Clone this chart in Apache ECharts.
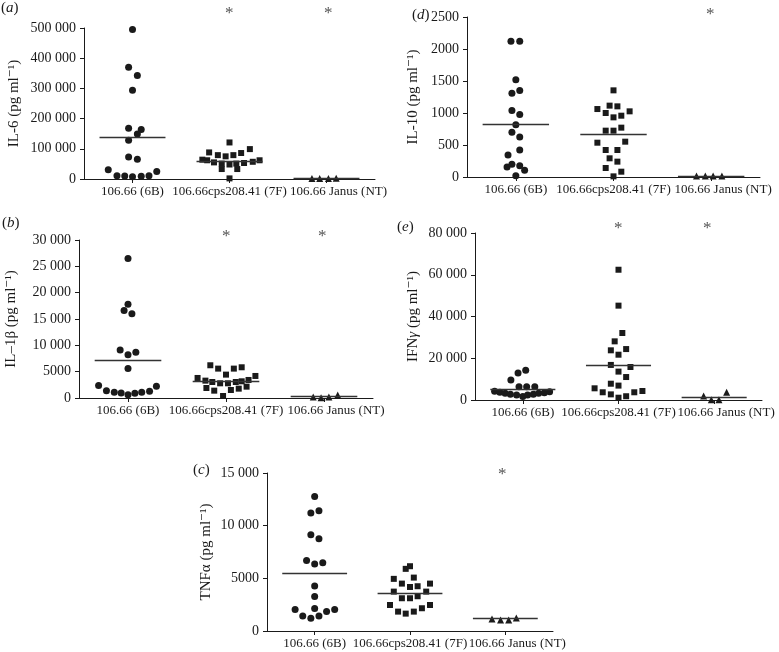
<!DOCTYPE html>
<html>
<head>
<meta charset="utf-8">
<script src="https://cdn.jsdelivr.net/npm/echarts@6/dist/echarts.min.js"></script>
<style>
html, body { margin: 0; padding: 0; background: #fff; }
#main { width: 779px; height: 652px; }
</style>
</head>
<body>
<div id="main"></div>
<script>
// groups on the x axis
var categories = ['106.66 (6B)', '106.66cps208.41 (7F)', '106.66 Janus (NT)'];

// (a) IL-6
var il6Ticks = [0, 100000, 200000, 300000, 400000, 500000];
var il6 = [
    [495000, 370000, 343000, 294000, 168000, 164000, 149000, 128000, 73000, 65000, 31000, 11000, 10000, 7700, 9000, 11000, 25000],
    [121000, 88000, 79000, 75000, 79000, 86000, 99000, 64000, 62000, 55000, 51000, 48000, 51000, 53000, 57000, 62000, 33000, 33000, 2000],
    [1800, 1500, 2000, 2500]
];
var il6Jitter = [
    [0, -0.04, 0.05, 0, -0.04, 0.09, 0.05, -0.04, -0.04, 0.05, -0.25, -0.16, -0.08, 0, 0.09, 0.17, 0.25],
    [0, -0.21, -0.12, -0.04, 0.04, 0.12, 0.21, -0.28, -0.23, -0.16, -0.08, 0, 0.07, 0.15, 0.24, 0.31, -0.08, 0.08, 0],
    [-0.15, -0.07, 0.02, 0.1]
];
var il6Means = [139000, 58000, 3500];

// (d) IL-10
var il10Ticks = [0, 500, 1000, 1500, 2000, 2500];
var il10 = [
    [2120, 2120, 1520, 1310, 1350, 1040, 975, 815, 700, 625, 420, 345, 155, 200, 175, 105, 20],
    [1354, 1062, 1115, 1104, 1026, 1000, 932, 958, 724, 724, 771, 536, 552, 422, 422, 292, 240, 141, 83, 10],
    [15, 15, 15, 15]
];
var il10Jitter = [
    [-0.05, 0.04, 0, -0.04, 0.04, -0.04, 0.04, 0, -0.04, 0.04, 0.04, -0.08, -0.09, -0.04, 0.04, 0.09, 0],
    [0, -0.165, -0.04, 0.04, 0.165, -0.08, 0, 0.08, -0.08, 0, 0.08, -0.165, 0.12, -0.08, 0.04, -0.04, 0.04, -0.08, 0.08, 0],
    [-0.15, -0.06, 0.02, 0.11]
];
var il10Means = [820, 675, 15];

// (b) IL-1beta
var il1bTicks = [0, 5000, 10000, 15000, 20000, 25000, 30000];
var il1b = [
    [26500, 17800, 16600, 16000, 9100, 8200, 8700, 5600, 2350, 1400, 1080, 950, 630, 890, 1080, 1270, 2220],
    [6215, 5580, 4438, 5580, 5833, 3804, 4184, 3297, 3043, 2790, 2790, 3043, 3170, 3424, 1902, 1395, 1522, 1775, 2156, 380],
    [200, 60, 200, 570]
];
var il1bJitter = [
    [0, 0, -0.04, 0.04, -0.08, 0, 0.08, 0, -0.3, -0.22, -0.14, -0.07, 0, 0.07, 0.14, 0.22, 0.29],
    [-0.16, -0.08, 0, 0.08, 0.16, -0.29, 0.3, -0.21, -0.14, -0.06, 0.02, 0.1, 0.16, 0.23, -0.2, -0.12, 0.05, 0.13, 0.21, -0.03],
    [-0.11, -0.03, 0.05, 0.14]
];
var il1bMeans = [7100, 3230, 320];

// (e) IFN-gamma
var ifngTicks = [0, 20000, 40000, 60000, 80000];
var ifng = [
    [14200, 12900, 9600, 6300, 6300, 6300, 4200, 3700, 3200, 2700, 2400, 1700, 2400, 2700, 3200, 3500, 4000],
    [62400, 45200, 32100, 28100, 23800, 24400, 21700, 16800, 15800, 13600, 11000, 7800, 6900, 5600, 3700, 2700, 1100, 1800, 3700, 4300],
    [1900, 100, 100, 3700]
];
var ifngJitter = [
    [0.03, -0.05, -0.125, -0.04, 0.04, 0.125, -0.295, -0.24, -0.185, -0.13, -0.065, 0, 0.05, 0.11, 0.165, 0.225, 0.28],
    [0, 0, 0.04, -0.04, -0.08, 0.08, 0, -0.08, 0.125, 0, 0.08, -0.08, 0, -0.25, -0.165, -0.08, 0, 0.08, 0.165, 0.25],
    [-0.11, -0.03, 0.05, 0.13]
];
var ifngMeans = [4950, 16600, 1300];

// (c) TNF-alpha
var tnfTicks = [0, 5000, 10000, 15000];
var tnf = [
    [12780, 11200, 11420, 9130, 8750, 6690, 6370, 6470, 4280, 3270, 2130, 2030, 1430, 1200, 1430, 1840, 2030],
    [5900, 6150, 4950, 5070, 4500, 4180, 4250, 4500, 3740, 3740, 3110, 3110, 3300, 2470, 2470, 1840, 1650, 1840, 2160],
    [1140, 1050, 1050, 1240]
];
var tnfJitter = [
    [0, -0.04, 0.045, -0.04, 0.045, -0.085, 0, 0.085, 0, 0, 0, -0.205, -0.125, -0.04, 0.045, 0.125, 0.21],
    [-0.045, 0, -0.17, 0.04, -0.085, 0, 0.08, 0.21, -0.17, 0.17, -0.085, 0, 0.08, -0.21, 0.21, -0.125, -0.045, 0.04, 0.125],
    [-0.14, -0.05, 0.035, 0.115]
];
var tnfMeans = [5450, 3590, 1200];

(function () {
    var chart = echarts.init(document.getElementById('main'));
    var font = '"Liberation Serif", "DejaVu Serif", serif';
    var ink = '#1a1a1a';
    var symbols = ['circle', 'rect', 'triangle'];
    var symbolSizes = [7, 6, 7];
    var centers = [0.5, 1.5, 2.5];

    function yFmt(v) {
        return v >= 10000 ? String(v).replace(/\B(?=(\d{3})+(?!\d))/g, ' ') : String(v);
    }

    // last group label sits a little right of its tick, as in the figure
    function xFmt(v) {
        var i = Math.floor(v);
        return i === 2 ? '{r|' + categories[i] + '}' : categories[i];
    }

    var panels = [
        {letter: 'a', values: il6, jitter: il6Jitter, means: il6Means, ticks: il6Ticks,
         name: 'IL-6 (pg ml⁻¹)', gap: 62,
         grid: {left: 84, top: 28, width: 291, height: 151}},
        {letter: 'd', values: il10, jitter: il10Jitter, means: il10Means, ticks: il10Ticks,
         name: 'IL-10 (pg ml⁻¹)', gap: 46,
         grid: {left: 467, top: 17, width: 293, height: 160}},
        {letter: 'b', values: il1b, jitter: il1bJitter, means: il1bMeans, ticks: il1bTicks,
         name: 'IL–1β (pg ml⁻¹)', gap: 60,
         grid: {left: 79, top: 240, width: 294, height: 158}},
        {letter: 'e', values: ifng, jitter: ifngJitter, means: ifngMeans, ticks: ifngTicks,
         name: '{n|IFN}{i|γ}{n| (pg ml⁻¹)}', gap: 54,
         grid: {left: 475, top: 233, width: 287, height: 167}},
        {letter: 'c', values: tnf, jitter: tnfJitter, means: tnfMeans, ticks: tnfTicks,
         name: 'TNFα (pg ml⁻¹)', gap: 53,
         grid: {left: 267, top: 473, width: 286, height: 158}}
    ];

    var option = {
        animation: false,
        backgroundColor: '#fff',
        grid: [], xAxis: [], yAxis: [], series: [], graphic: []
    };

    panels.forEach(function (p, k) {
        option.grid.push(p.grid);
        option.xAxis.push({
            type: 'value', gridIndex: k, min: 0, max: 3,
            axisLine: {show: true, onZero: false, lineStyle: {color: ink, width: 1}},
            axisTick: {show: true, length: 4, customValues: centers, lineStyle: {color: ink}},
            axisLabel: {
                customValues: centers, margin: 6,
                showMinLabel: true, showMaxLabel: true, hideOverlap: false,
                fontFamily: font, fontSize: 13, color: ink,
                formatter: xFmt,
                rich: {r: {fontFamily: font, fontSize: 13, color: ink, padding: [0, 0, 0, 24]}}
            },
            splitLine: {show: false}
        });
        option.yAxis.push({
            type: 'value', gridIndex: k,
            min: 0, max: p.ticks[p.ticks.length - 1], interval: p.ticks[1],
            name: p.name, nameLocation: 'middle', nameGap: p.gap,
            nameTextStyle: {
                fontFamily: font, fontSize: 15, color: ink,
                rich: {
                    n: {fontFamily: font, fontSize: 15, color: ink},
                    i: {fontFamily: font, fontSize: 15, color: ink, fontStyle: 'italic'}
                }
            },
            axisLine: {show: true, onZero: false, lineStyle: {color: ink, width: 1}},
            axisTick: {show: true, length: 4, lineStyle: {color: ink}},
            axisLabel: {fontFamily: font, fontSize: 14, color: ink, margin: 8, formatter: yFmt},
            splitLine: {show: false}
        });

        p.values.forEach(function (vals, g) {
            option.series.push({
                type: 'scatter', xAxisIndex: k, yAxisIndex: k,
                symbol: symbols[g], symbolSize: symbolSizes[g],
                itemStyle: {color: ink, opacity: 1},
                data: vals.map(function (v, i) { return [centers[g] + p.jitter[g][i], v]; }),
                markLine: {
                    silent: true, symbol: ['none', 'none'],
                    label: {show: false},
                    lineStyle: {color: '#333', width: 1.3, type: 'solid', opacity: 1},
                    data: [[{coord: [centers[g] - 0.34, p.means[g]]}, {coord: [centers[g] + 0.34, p.means[g]]}]]
                }
            });
        });
    });

    // panel letters
    var letters = [['a', 1, 1], ['d', 412, 8], ['b', 2, 216], ['e', 397, 220], ['c', 193, 463]];
    letters.forEach(function (l) {
        option.graphic.push({
            type: 'text', left: l[1], top: l[2],
            style: {
                text: '{n|(}{i|' + l[0] + '}{n|)}',
                rich: {
                    n: {fontFamily: font, fontSize: 15, fill: ink},
                    i: {fontFamily: font, fontSize: 15, fill: ink, fontStyle: 'italic'}
                }
            }
        });
    });

    // significance marks
    var stars = [[229, 5], [328, 5], [710, 6], [226, 228], [322, 228], [618, 220], [707, 220], [502, 466]];
    stars.forEach(function (s) {
        option.graphic.push({
            type: 'text', x: s[0] - 4, y: s[1],
            style: {text: '*', fontFamily: font, fontSize: 17, fill: '#555'}
        });
    });

    chart.setOption(option);
})();
</script>
</body>
</html>
